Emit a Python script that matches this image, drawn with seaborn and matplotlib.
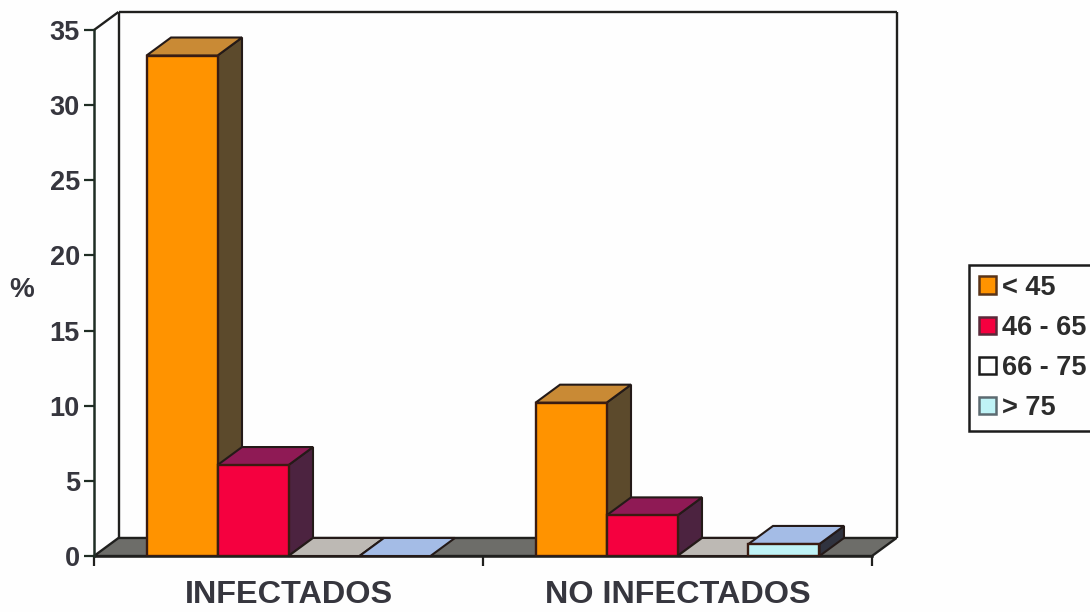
import matplotlib
matplotlib.use("Agg")
import matplotlib.pyplot as plt
from matplotlib.patches import Polygon, Patch
import pandas as pd
import seaborn as sns

# Chart values
groups = ["INFECTADOS", "NO INFECTADOS"]
age_bands = ["< 45", "46 - 65", "66 - 75", "> 75"]
infectados = [33.3, 6.05, 0, 0]
no_infectados = [10.2, 2.7, 0, 0.8]
y_ticks = [0, 5, 10, 15, 20, 25, 30, 35]

# Face colours per age band
front_colors = ["#ff9300", "#f5003f", "#ffffff", "#bff3f6"]
top_colors = ["#c98a35", "#8f1a55", "#bdb9b4", "#a4bce6"]
side_colors = ["#5c4a2c", "#4c2340", "#8a8a88", "#30333f"]
legend_edges = ["#5a3418", "#5a2a3a", "#1c1c1c", "#5c6a70"]
floor_color = "#6d6d69"
line_color = "#20201e"
text_color = "#36363e"

sns.set_theme(style="white", rc={"figure.facecolor": "#fefefe", "axes.facecolor": "none"})
plt.rcParams["font.family"] = ["Liberation Sans", "DejaVu Sans"]
plt.rcParams["font.weight"] = "bold"

W, H = 1090, 612
fig = plt.figure(figsize=(W / 100, H / 100), dpi=100)
ax = fig.add_axes([94 / W, (H - 556) / H, 778 / W, 526 / H])

table = pd.DataFrame({
    "grupo": [g for g in groups for _ in age_bands],
    "edad": age_bands * 2,
    "pct": infectados + no_infectados,
})
sns.barplot(data=table, x="grupo", y="pct", hue="edad", order=groups, hue_order=age_bands,
            palette=front_colors, width=0.73, gap=0, saturation=1, legend=False, ax=ax,
            edgecolor="#3a1c12", linewidth=1.7, errorbar=None)

ax.set_xlim(-0.5, 1.5)
ax.set_ylim(0, 35)

# Oblique offset of the pseudo-3D depth, in data units
dx = 24.5 / 389
dy = 1.2
x0, x1 = -0.5, 1.5
top = 35

# Back wall and floor
wall = dict(color=line_color, lw=1.7, clip_on=False, zorder=1, solid_capstyle="butt")
ax.plot([x0 + dx, x0 + dx], [dy, top + dy], **wall)
ax.plot([x0 + dx, x1 + dx], [top + dy, top + dy], **wall)
ax.plot([x1 + dx, x1 + dx], [dy, top + dy], **wall)
ax.plot([x0, x0 + dx], [top, top + dy], **wall)
ax.add_patch(Polygon([(x0, 0), (x1, 0), (x1 + dx, dy), (x0 + dx, dy)], closed=True,
                     facecolor=floor_color, edgecolor=line_color, lw=1.7, clip_on=False, zorder=1.5))

# Extrude every bar from its own rectangle, left to right so nearer faces overlap
bars = []
for band, container in enumerate(ax.containers):
    for bar in container:
        bars.append((bar.get_x(), band, bar))
bars.sort(key=lambda item: item[0])

for order, (left, band, bar) in enumerate(bars):
    right = left + bar.get_width()
    h = bar.get_height()
    z = 3 + order
    if h > 0:
        ax.add_patch(Polygon([(right, 0), (right + dx, dy), (right + dx, h + dy), (right, h)],
                             closed=True, facecolor=side_colors[band], edgecolor="#241a18",
                             lw=1.5, clip_on=False, zorder=z))
        bar.set_zorder(z + 0.5)
    else:
        bar.set_visible(False)
    ax.add_patch(Polygon([(left, h), (right, h), (right + dx, h + dy), (left + dx, h + dy)],
                         closed=True, facecolor=top_colors[band], edgecolor="#241a18",
                         lw=1.5, clip_on=False, zorder=z + 0.2))

# Axes, ticks and labels
for name in ["top", "right"]:
    ax.spines[name].set_visible(False)
ax.spines["left"].set_color("#1f2d24")
ax.spines["left"].set_linewidth(1.8)
ax.spines["bottom"].set_color(line_color)
ax.spines["bottom"].set_linewidth(1.8)
ax.spines["bottom"].set_zorder(2)

ax.set_yticks(y_ticks)
ax.set_yticklabels([str(v) for v in y_ticks])
ax.tick_params(axis="y", left=True, length=7.2, width=1.6, color="#1f2d24", pad=3,
               labelsize=19.5, labelcolor=text_color)
ax.set_xticks([0, 1])
ax.set_xticklabels(groups)
ax.set_xticks([-0.5, 0.5, 1.5], minor=True)
ax.tick_params(axis="x", which="major", bottom=False, pad=11.5, labelsize=23.3, labelcolor=text_color)
ax.tick_params(axis="x", which="minor", bottom=True, length=7, width=1.6, color=line_color)

ax.set_xlabel("")
ax.set_ylabel("%", rotation=0, fontsize=20, fontweight="bold", color=text_color, va="center", ha="center")
ax.yaxis.set_label_coords((22 - 94) / 778, (556 - 290) / 526)

# Key, running off the right edge of the figure
handles = [Patch(facecolor=f, edgecolor=e, lw=1.8) for f, e in zip(front_colors, legend_edges)]
legend = fig.legend(handles, age_bands, loc="upper left", bbox_to_anchor=(969 / W, (H - 265) / H),
                    frameon=True, fancybox=False, edgecolor="#1c1c1c", facecolor="#fefefe",
                    fontsize=19.5, labelcolor="#2c2c2c", framealpha=1, handlelength=0.62,
                    handleheight=0.62, handletextpad=0.24, labelspacing=0.52, borderpad=0.36,
                    borderaxespad=0)
legend.get_frame().set_linewidth(1.8)

fig.savefig("out.png", dpi=100, facecolor=fig.get_facecolor())
